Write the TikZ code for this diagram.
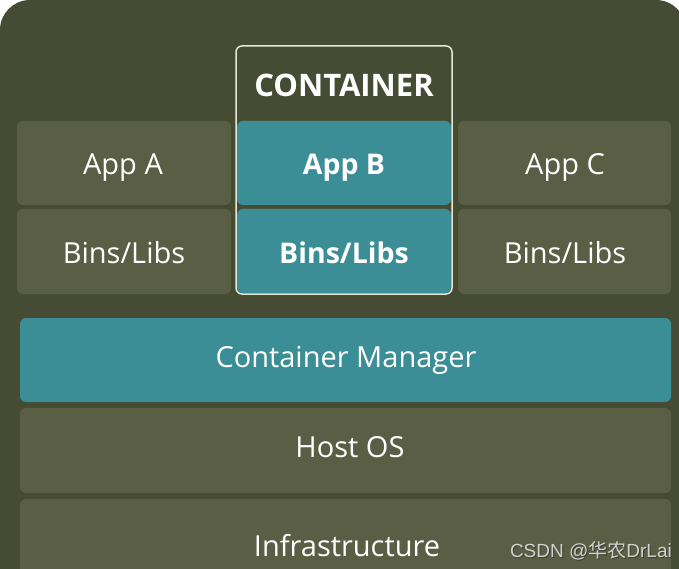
\documentclass[tikz,border=0pt]{standalone}
\usepackage{fontspec}
\setmainfont{Open Sans}
\newfontfamily\wmfont{Liberation Sans}
\newfontfamily\wmcjk{Noto Sans CJK SC}
\definecolor{bgdark}{HTML}{454C33}
\definecolor{boxol}{HTML}{5A5E45}
\definecolor{teal}{HTML}{3B8E96}
\definecolor{frame}{HTML}{E6E8D6}
\definecolor{wm}{HTML}{D2D2D2}
\definecolor{wmsh}{HTML}{3A3F2A}
\tikzset{
  blk/.style={fill=boxol, rounded corners=6pt, draw=none},
  tblk/.style={fill=teal, rounded corners=6pt, draw=none},
  lbl/.style={text=white, font=\fontsize{29}{33}\selectfont, anchor=base, inner sep=0pt},
  blbl/.style={text=white, font=\fontsize{28.5}{33}\selectfont\bfseries, anchor=base, inner sep=0pt},
}
\begin{document}
\begin{tikzpicture}[x=1pt,y=-1pt]
\useasboundingbox (0,0) rectangle (679,569);
\fill[white] (0,0) rectangle (679,569);
\fill[bgdark, rounded corners=30pt] (0,0) rectangle (686,600);
% app row
\fill[blk] (17,121) rectangle (231,205);
\fill[blk] (458,121) rectangle (671,205);
\fill[blk] (17,209) rectangle (231,294);
\fill[blk] (458,209) rectangle (671,294);
% container
\fill[tblk] (237,121) rectangle (451,205);
\fill[tblk] (237,209) rectangle (451,293);
\draw[frame, line width=1.5pt, rounded corners=6pt] (236,46) rectangle (452,294);
% lower layers
\fill[tblk] (20,318) rectangle (671,402);
\fill[blk] (20,408) rectangle (671,493);
\fill[blk] (20,499) rectangle (671,600);
% labels
\node[blbl, font=\fontsize{31}{35}\selectfont\bfseries] (ct) at (344,97) {CONTAINER};
\node[lbl] (appa) at (123,175) {App A};
\node[blbl] (appb) at (344,175) {App B};
\node[lbl] (appc) at (565,175) {App C};
\node[lbl] (binsa) at (124,263) {Bins/Libs};
\node[blbl] (binsb) at (344,263) {Bins/Libs};
\node[lbl] (binsc) at (565,263) {Bins/Libs};
\node[lbl] (cm) at (346,367) {Container Manager};
\node[lbl] (host) at (350,457) {Host OS};
\node[lbl] (infra) at (347,556) {Infrastructure};
% watermark
\node[anchor=base east, inner sep=0pt, text=wmsh, font=\fontsize{19}{22}\selectfont] at (673,558) {\wmfont CSDN @\wmcjk 华农\wmfont DrLai};
\node[anchor=base east, inner sep=0pt, text=wm, font=\fontsize{19}{22}\selectfont] (wmk) at (672,557) {\wmfont CSDN @\wmcjk 华农\wmfont DrLai};
\end{tikzpicture}
\end{document}
